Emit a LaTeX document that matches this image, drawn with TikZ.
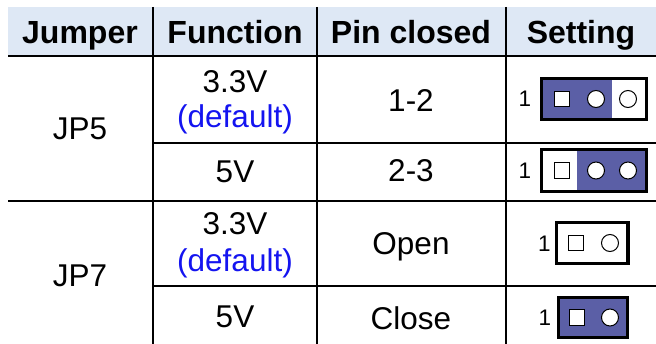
\documentclass[tikz,border=0pt]{standalone}
\usepackage{fontspec}
\setmainfont{Liberation Sans}
\definecolor{hdr}{HTML}{DEE8F5}
\definecolor{jblue}{HTML}{5B5FA6}
\definecolor{defblue}{HTML}{1414F0}
\begin{document}
\begin{tikzpicture}[x=1pt,y=-1pt,
  txt/.style={inner sep=0pt,anchor=base,font=\fontsize{31.5}{36}\selectfont},
  head/.style={inner sep=0pt,anchor=base,font=\fontsize{32}{36}\selectfont\bfseries},
  deftxt/.style={txt,text=defblue},
  onelbl/.style={inner sep=0pt,anchor=base,font=\fontsize{22.5}{26}\selectfont},
  hline/.style={line width=2.2pt},
  vline/.style={line width=1.3pt},
  jbox/.style={line width=3.3pt},
  pinsq/.style={draw,fill=white,rectangle,line width=1pt,minimum size=15.5pt,inner sep=0pt},
  pinci/.style={draw,fill=white,circle,line width=1pt,minimum size=17pt,inner sep=0pt}]
\useasboundingbox (0,0) rectangle (656,344);
% header band
\fill[hdr] (8,7) rectangle (656,56);
% grid lines
\draw[hline] (8,56) -- (656,56);
\draw[hline] (8,201) -- (656,201);
\draw[hline] (153,143) -- (656,143);
\draw[hline] (153,286) -- (656,286);
\draw[vline] (153,7) -- (153,344);
\draw[vline] (317,7) -- (317,344);
\draw[line width=2pt] (506,7) -- (506,344);
% header texts
\node[head] (hj) at (80,44) {Jumper};
\node[head] (hf) at (235,44) {Function};
\node[head] (hp) at (411,44) {Pin closed};
\node[head] (hs) at (581,44) {Setting};
% JP5
\node[txt] (jp5) at (80,140) {JP5};
\node[txt] (f51) at (235,93) {3.3V};
\node[deftxt] (d51) at (235,128) {(default)};
\node[txt] (p51) at (411,112) {1-2};
\node[txt] (f52) at (235,183) {5V};
\node[txt] (p52) at (411,182) {2-3};
% JP7
\node[txt] (jp7) at (80,287) {JP7};
\node[txt] (f71) at (235,235) {3.3V};
\node[deftxt] (d71) at (235,272) {(default)};
\node[txt] (p71) at (411,255) {Open};
\node[txt] (f72) at (235,328) {5V};
\node[txt] (p72) at (411,330) {Close};
% JP5 1-2 setting
\fill[jblue] (541.5,78.5) rectangle (612,119.5);
\draw[jbox] (541.5,78.5) rectangle (646.5,119.5);
\node[onelbl] (l1) at (525,107) {1};
\node[pinsq] (a1) at (562,99) {};
\node[pinci] (a2) at (596,99) {};
\node[pinci] (a3) at (628,99) {};
% JP5 2-3 setting
\fill[jblue] (577,149.5) rectangle (646.5,191.5);
\draw[jbox] (541.5,149.5) rectangle (646.5,191.5);
\node[onelbl] (l2) at (525,179) {1};
\node[pinsq] (b1) at (562,170.5) {};
\node[pinci] (b2) at (596,170.5) {};
\node[pinci] (b3) at (628,170.5) {};
% JP7 open
\draw[jbox] (556.5,222.5) rectangle (628,263.5);
\node[onelbl] (l3) at (544.5,252) {1};
\node[pinsq] (c1) at (576,243) {};
\node[pinci] (c2) at (610,243) {};
% JP7 close
\fill[jblue] (558.5,297.5) rectangle (627.5,337.5);
\draw[jbox] (558.5,297.5) rectangle (627.5,337.5);
\node[onelbl] (l4) at (545,326) {1};
\node[pinsq] (d1) at (577,317.5) {};
\node[pinci] (d2) at (610,317.5) {};
\end{tikzpicture}
\end{document}
